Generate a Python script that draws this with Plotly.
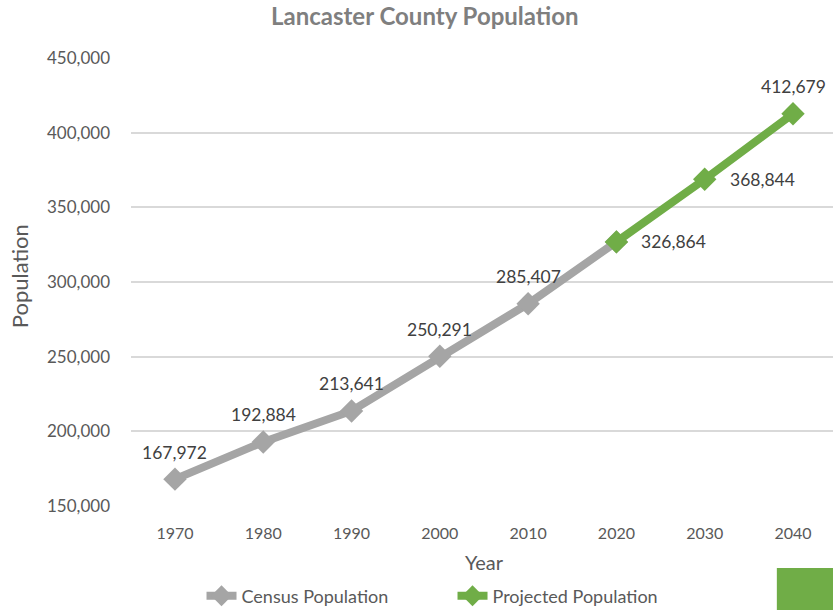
import plotly.graph_objects as go

years = ["1970", "1980", "1990", "2000", "2010", "2020", "2030", "2040"]
census_years = ["1970", "1980", "1990", "2000", "2010", "2020"]
census_vals = [167972, 192884, 213641, 250291, 285407, 326864]
proj_years = ["2020", "2030", "2040"]
proj_vals = [326864, 368844, 412679]
label_years = years
label_vals = [167972, 192884, 213641, 250291, 285407, 326864, 368844, 412679]
label_side = ["top", "top", "top", "top", "top", "right", "right", "top"]

GRAY = "#A5A5A5"
GREEN = "#70AD47"
FONT = "Lato, 'Open Sans', sans-serif"

fig = go.Figure()
fig.add_trace(go.Scatter(
    x=census_years, y=census_vals, mode="lines+markers",
    name="Census Population",
    line=dict(color=GRAY, width=8),
    marker=dict(symbol="diamond", size=18, color=GRAY),
))
fig.add_trace(go.Scatter(
    x=proj_years, y=proj_vals, mode="lines+markers",
    name="Projected Population",
    line=dict(color=GREEN, width=8),
    marker=dict(symbol="diamond", size=18, color=GREEN),
))

annotations = []
for yr, v, side in zip(label_years, label_vals, label_side):
    idx = years.index(yr)
    if side == "top":
        annotations.append(dict(x=idx, y=v, xref="x", yref="y", text=f"{v:,}",
                                showarrow=False, xanchor="center", yanchor="middle",
                                yshift=27, font=dict(size=17.5, color="#404040", family=FONT)))
    else:
        annotations.append(dict(x=idx, y=v, xref="x", yref="y", text=f"{v:,}",
                                showarrow=False, xanchor="left", yanchor="middle",
                                xshift=23, font=dict(size=17.5, color="#404040", family=FONT)))
annotations.append(dict(text="Population", xref="paper", yref="paper", x=-0.1595, y=0.513,
                        textangle=-90, showarrow=False, xanchor="center", yanchor="middle",
                        font=dict(size=22, color="#595959", family=FONT)))
annotations.append(dict(text="Year", xref="paper", yref="paper", x=0.503, y=-0.125,
                        showarrow=False, xanchor="center", yanchor="middle",
                        font=dict(size=20, color="#595959", family=FONT)))

fig.update_layout(
    width=833, height=610,
    margin=dict(l=131, r=0, t=58, b=104, autoexpand=False),
    paper_bgcolor="white", plot_bgcolor="white",
    font=dict(family=FONT, size=16, color="#595959"),
    title=dict(text="<b>Lancaster County Population</b>", x=0.51, xanchor="center",
               y=0.972, yanchor="middle",
               font=dict(size=24, color="#7F7F7F", family=FONT)),
    xaxis=dict(type="category", categoryorder="array", categoryarray=years,
               tickvals=years, range=[-0.498, 7.453], showgrid=False, zeroline=False,
               showline=False, ticks="", ticklabelstandoff=16, automargin=False,
               tickfont=dict(size=16, color="#595959")),
    yaxis=dict(range=[150000, 450000], dtick=50000, tickformat=",",
               showgrid=True, gridcolor="#D9D9D9", gridwidth=1.5, zeroline=False,
               showline=False, ticks="", ticklabelstandoff=20, automargin=False,
               tickfont=dict(size=17, color="#595959")),
    legend=dict(orientation="h", x=0.458, xanchor="center", y=-0.201, yanchor="middle",
                font=dict(size=18, color="#595959"), entrywidth=206, entrywidthmode="pixels"),
    showlegend=True,
    annotations=annotations,
    shapes=[dict(type="rect", xref="paper", yref="paper", x0=0.920, x1=1.0,
                 y0=-0.232, y1=-0.1384, fillcolor=GREEN, line=dict(width=0))],
)
fig.write_html(
    "out.html",
    config={"displayModeBar": False},
    post_script=("document.body.style.margin='0';"
                 "document.documentElement.style.overflow='hidden';"
                 "var d=document.getElementById('{plot_id}');"
                 "d.style.position='fixed';d.style.top='0';d.style.left='0';"),
)
